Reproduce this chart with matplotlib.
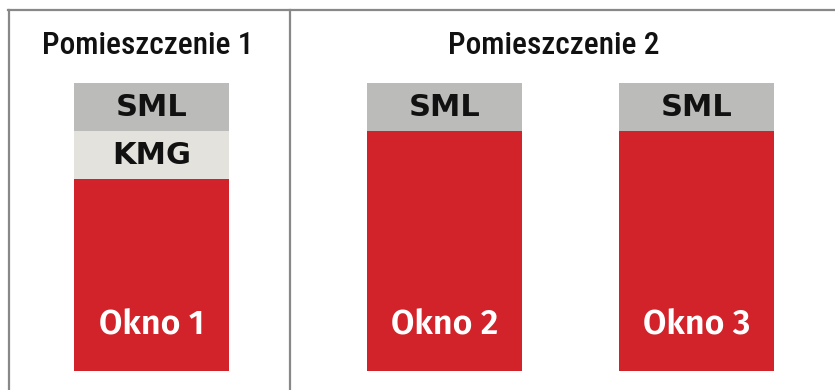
import matplotlib.pyplot as plt
from matplotlib.lines import Line2D

# segment heights per window, stacked from the bottom up
okna = ["Okno 1", "Okno 2", "Okno 3"]
okno_h = [4, 5, 5]
kmg_h = [1, 0, 0]
sml_h = [1, 1, 1]
pomieszczenia = ["Pomieszczenie 1", "Pomieszczenie 2"]

RED = "#d2232a"
SML_C = "#bbbbb9"
KMG_C = "#e3e2dd"
LINE_C = "#888888"

W, H = 835, 390
PX = 48.0          # pixels per unit of height
BASE = 371         # baseline, pixels from top
bar_x = [151.5, 444.5, 696.5]
bar_w = 155
title_x = [148, 554]

fig = plt.figure(figsize=(W / 100, H / 100), dpi=100)
ax = fig.add_axes([0, 0, 1, 1])
ax.set_xlim(0, W)
ax.set_ylim(-(H - BASE) / PX, BASE / PX)
ax.axis("off")


def y_of(px):
    return (BASE - px) / PX


ax.bar(bar_x, okno_h, width=bar_w, color=RED, linewidth=0)
ax.bar(bar_x, kmg_h, width=bar_w, bottom=okno_h, color=KMG_C, linewidth=0)
sml_bottom = [a + b for a, b in zip(okno_h, kmg_h)]
ax.bar(bar_x, sml_h, width=bar_w, bottom=sml_bottom, color=SML_C, linewidth=0)

seg_font = dict(family="DejaVu Sans", fontweight="bold", fontsize=22,
                ha="center", va="center", color="#111111")
for x, o, k, s, name in zip(bar_x, okno_h, kmg_h, sml_h, okna):
    ax.text(x, o + k + s / 2 - 0.02, "SML", **seg_font)
    if k:
        ax.text(x, o + k / 2 - 0.02, "KMG", **seg_font)
    ax.text(x, 0.96, name, family=["Fira Sans", "Open Sans"], fontweight="semibold",
            fontsize=24.5, ha="center", va="center", color="white")

for x, t in zip(title_x, pomieszczenia):
    ax.text(x, y_of(46), t, family="Roboto Condensed", fontweight="medium",
            fontsize=22.5, ha="center", va="center", color="#111111")

# frame: top rule, left edge and the divider between rooms
fig.add_artist(Line2D([8 / W, 1], [1 - 10 / H, 1 - 10 / H], color=LINE_C, lw=1.6))
fig.add_artist(Line2D([8.5 / W, 8.5 / W], [0, 1 - 10 / H], color=LINE_C, lw=1.6))
fig.add_artist(Line2D([289.5 / W, 289.5 / W], [0, 1 - 10 / H], color=LINE_C, lw=1.6))

fig.savefig("out.png", dpi=100)
